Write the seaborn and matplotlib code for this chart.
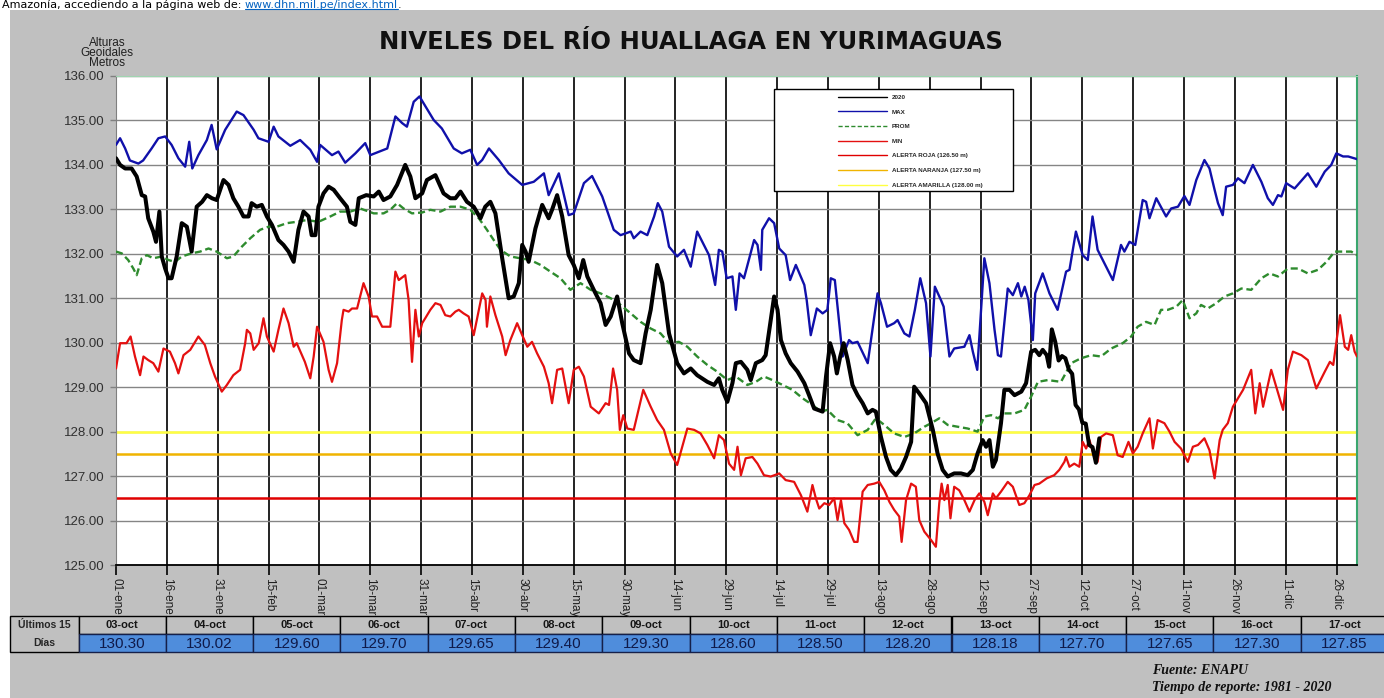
import numpy as np
import pandas as pd
import seaborn as sns
import matplotlib
matplotlib.use('Agg')
import matplotlib.pyplot as plt
from matplotlib.patches import Rectangle

# Ejes: dias desde el 01-ene (2020, bisiesto), ticks cada 15 dias
tick_days = list(range(0, 361, 15))
tick_labels = ['01-ene', '16-ene', '31-ene', '15-feb', '01-mar', '16-mar', '31-mar',
               '15-abr', '30-abr', '15-may', '30-may', '14-jun', '29-jun', '14-jul',
               '29-jul', '13-ago', '28-ago', '12-sep', '27-sep', '12-oct', '27-oct',
               '11-nov', '26-nov', '11-dic', '26-dic']
y_ticks = list(range(125, 137))

# Ultimos 15 dias (tabla inferior), dias 276..290 del año
ultimos_fechas = ['03-oct', '04-oct', '05-oct', '06-oct', '07-oct', '08-oct', '09-oct', '10-oct',
                  '11-oct', '12-oct', '13-oct', '14-oct', '15-oct', '16-oct', '17-oct']
ultimos_dias = list(range(276, 291))
ultimos_valores = [130.30, 130.02, 129.60, 129.70, 129.65, 129.40, 129.30, 128.60,
                   128.50, 128.20, 128.18, 127.70, 127.65, 127.30, 127.85]

# Nivel 2020, hasta el 02-oct; luego la tabla
nivel_2020 = [(0, 134.15), (1.2, 134.0), (2.7, 133.92), (4.6, 133.92), (6.1, 133.74), (7.6, 133.32),
              (8.6, 133.29), (9.5, 132.8), (11, 132.5), (11.8, 132.27), (12.8, 132.95), (13.5, 131.94),
              (14.5, 131.67), (15.5, 131.45), (16.4, 131.45), (17.9, 131.94), (19.4, 132.69),
              (20.9, 132.61), (22.3, 132.05), (23.8, 133.06), (25.4, 133.17), (26.8, 133.32),
              (28.3, 133.25), (29.7, 133.21), (31.7, 133.66), (33.2, 133.55), (34.6, 133.25),
              (36.1, 133.06), (37.6, 132.84), (39.1, 132.84), (40, 133.14), (41.5, 133.06),
              (43, 133.1), (44.5, 132.84), (46, 132.65), (47.9, 132.31), (49.4, 132.2), (50.9, 132.05),
              (52.4, 131.82), (53.8, 132.54), (55.3, 132.95), (56.8, 132.84), (57.7, 132.42),
              (58.8, 132.42), (59.7, 133.06), (61.2, 133.36), (62.7, 133.51), (64.2, 133.44),
              (66.1, 133.25), (68.1, 133.06), (69.1, 132.72), (70.6, 132.65), (71.6, 133.25),
              (73.8, 133.32), (76, 133.29), (77.5, 133.4), (78.9, 133.21), (80.9, 133.29),
              (82.9, 133.55), (85.3, 134.0), (86.8, 133.74), (88.3, 133.25), (90.3, 133.36),
              (91.7, 133.66), (94.2, 133.77), (96.6, 133.36), (98.6, 133.25), (100.1, 133.25),
              (101.6, 133.4), (103.5, 133.17), (105.5, 133.06), (107.5, 132.8), (108.9, 133.06),
              (110.4, 133.17), (111.9, 132.91), (113.9, 131.9), (115.8, 131.0), (117.3, 131.04),
              (118.8, 131.34), (119.8, 132.2), (120.8, 132.05), (121.7, 131.82), (123.7, 132.57),
              (125.7, 133.1), (127.6, 132.8), (128.6, 132.99), (130.1, 133.32), (131.6, 132.84),
              (133.5, 131.97), (135, 131.75), (136.5, 131.45), (137.8, 131.86), (139, 131.49),
              (140.9, 131.19), (142.9, 130.89), (144.4, 130.4), (145.9, 130.59), (147.8, 131.04),
              (149.3, 130.44), (151.3, 129.76), (152.7, 129.61), (154.7, 129.54), (156.2, 130.21),
              (157.7, 130.74), (159.6, 131.75), (161.1, 131.34), (163.1, 130.21), (165.5, 129.54),
              (167.5, 129.31), (169.5, 129.42), (171.4, 129.27), (174.4, 129.12), (176.4, 129.05),
              (177.8, 129.2), (178.8, 128.94), (180.3, 128.67), (181.8, 129.09), (182.8, 129.54),
              (184.3, 129.57), (186.2, 129.39), (187.2, 129.16), (188.7, 129.54), (190.6, 129.61),
              (191.6, 129.72), (193.1, 130.51), (194.1, 131.04), (195.1, 130.74), (196.1, 130.06),
              (197.5, 129.76), (199, 129.54), (201, 129.35), (203, 129.09), (204.4, 128.82),
              (205.9, 128.52), (208.4, 128.45), (209.4, 129.24), (210.6, 129.99), (211.8, 129.69),
              (212.6, 129.31), (213.6, 129.69), (214.6, 129.99), (215.8, 129.61), (217.2, 129.05),
              (218.7, 128.82), (220.2, 128.64), (221.7, 128.41), (223.1, 128.49), (224.1, 128.45),
              (225.6, 127.88), (227.1, 127.43), (228.5, 127.14), (230, 127.02), (231.5, 127.17),
              (233, 127.43), (234.5, 127.77), (235.4, 129.01), (236.9, 128.86), (238.9, 128.64),
              (240.9, 128.04), (242.3, 127.51), (243.8, 127.14), (245.3, 126.99), (247.2, 127.06),
              (249.2, 127.06), (251.2, 127.02), (252.7, 127.14), (254.1, 127.51), (255.6, 127.81),
              (256.6, 127.66), (257.6, 127.81), (258.6, 127.21), (259.5, 127.36), (261, 128.19),
              (262, 128.94), (263.5, 128.94), (265, 128.82), (267, 128.9), (268.4, 129.09),
              (269.9, 129.8), (271.1, 129.84), (272.3, 129.72), (273.3, 129.84), (274.5, 129.72),
              (275.2, 129.46)]

nivel_max = [(0, 134.45), (1.2, 134.6), (2.7, 134.37), (4.1, 134.1), (6.6, 134.03), (8, 134.1),
             (10.5, 134.37), (12.5, 134.6), (14.5, 134.64), (16.4, 134.45), (18.4, 134.15),
             (20.4, 133.96), (21.6, 134.52), (22.5, 133.92), (24.3, 134.22), (26.8, 134.56),
             (28.2, 134.9), (29.7, 134.35), (32.2, 134.79), (35.6, 135.2), (37.6, 135.12),
             (40.6, 134.79), (42, 134.6), (45, 134.52), (46.5, 134.86), (47.9, 134.64), (51.4, 134.43),
             (54.3, 134.56), (57.3, 134.34), (59.3, 134.07), (60.2, 134.45), (63.7, 134.22),
             (65.6, 134.3), (67.6, 134.05), (70.6, 134.26), (73.5, 134.49), (75, 134.22), (80, 134.37),
             (82.4, 135.09), (84.4, 134.94), (85.8, 134.86), (87.8, 135.42), (89.5, 135.54),
             (93.7, 135.01), (96.1, 134.82), (99.6, 134.37), (102, 134.26), (104.5, 134.34),
             (106.5, 134.0), (108, 134.11), (110, 134.37), (112.9, 134.11), (115.8, 133.81),
             (119.8, 133.55), (123.2, 133.62), (126.2, 133.81), (127.6, 133.32), (130.6, 133.81),
             (133.5, 132.87), (135, 132.91), (138, 133.59), (140.4, 133.75), (143.4, 133.29),
             (146.8, 132.54), (148.8, 132.42), (151.8, 132.5), (152.7, 132.35), (154.7, 132.5),
             (156.7, 132.42), (158.7, 132.84), (159.8, 133.14), (161.1, 132.95), (163.1, 132.16),
             (165.5, 131.94), (167.5, 132.09), (169.5, 131.71), (171.4, 132.5), (174.9, 131.97),
             (176.7, 131.3), (177.8, 132.09), (178.8, 132.05), (180.1, 131.45), (181.8, 131.49),
             (182.8, 130.74), (183.9, 131.56), (185.2, 131.45), (188.2, 132.31), (189.2, 132.2),
             (190.2, 131.64), (190.6, 132.54), (192.6, 132.8), (194.1, 132.69), (195.6, 132.12),
             (197.5, 131.97), (198.8, 131.41), (200.5, 131.75), (203, 131.3), (203.7, 130.96),
             (204.9, 130.17), (206.7, 130.77), (208.4, 130.66), (209.8, 130.74), (210.8, 131.45),
             (212, 131.41), (214.3, 129.69), (216.2, 130.06), (217.2, 129.99), (218.7, 130.02),
             (221.7, 129.54), (224.6, 131.11), (225.6, 130.89), (227.4, 130.36), (229.5, 130.44),
             (230.5, 130.51), (232.5, 130.21), (234, 130.14), (235.6, 130.74), (237.2, 131.45),
             (238.9, 130.89), (240.2, 129.69), (241.5, 131.26), (243.3, 130.96), (244.1, 130.81),
             (245.8, 129.69), (247.2, 129.87), (250.2, 129.91), (251.7, 130.17), (252.7, 129.8),
             (254, 129.39), (256.1, 131.9), (257.6, 131.34), (259.1, 130.29), (260.1, 129.72),
             (261, 129.69), (263, 131.22), (264.5, 131.07), (266, 131.34), (267, 131.04),
             (268, 131.26), (269.1, 130.96), (270.4, 130.06), (271.1, 131.11), (273.3, 131.56),
             (275.3, 131.11), (277.7, 130.74), (280.2, 131.6), (281.2, 131.64), (283.1, 132.5),
             (285.1, 131.97), (286.6, 131.86), (288, 132.84), (289.5, 132.09), (294, 131.41),
             (296.4, 132.2), (297.4, 132.05), (298.9, 132.27), (300.6, 132.2), (302.8, 133.21),
             (303.8, 133.17), (304.8, 132.8), (306.8, 133.25), (309.7, 132.84), (311.2, 133.02),
             (313.2, 133.06), (315.1, 133.3), (316.6, 133.1), (318.6, 133.66), (321, 134.11),
             (322.5, 133.92), (324, 133.44), (325, 133.14), (326.4, 132.87), (327.4, 133.51),
             (329.4, 133.55), (330.9, 133.7), (332.8, 133.59), (335.3, 134.0), (337.8, 133.62),
             (339.7, 133.25), (341.2, 133.1), (342.7, 133.32), (343.7, 133.29), (345.1, 133.59),
             (347.6, 133.47), (351.5, 133.81), (354, 133.51), (356.5, 133.85), (358.4, 134.0),
             (359.9, 134.26), (361.9, 134.19), (363.4, 134.19), (366, 134.13)]

nivel_prom = [(0, 132.05), (1.7, 132.01), (3.6, 131.86), (5.1, 131.67), (6.1, 131.52), (7.6, 131.9),
              (9.1, 131.97), (11, 131.9), (13.5, 131.94), (15.5, 131.86), (17.4, 131.82),
              (19.4, 131.94), (22.3, 132.01), (24.8, 132.05), (27.3, 132.12), (29.7, 132.05),
              (32.7, 131.9), (34.6, 131.94), (37.1, 132.16), (39.6, 132.35), (42.5, 132.54),
              (45, 132.61), (47.4, 132.61), (50.4, 132.69), (53.3, 132.72), (56.3, 132.76),
              (59.7, 132.72), (63.2, 132.84), (66.1, 132.95), (69.1, 132.95), (72, 133.02),
              (76, 132.91), (78.9, 132.91), (80.9, 132.99), (82.9, 133.14), (84.8, 133.02),
              (87.3, 132.91), (90.3, 132.93), (92.7, 132.99), (95.7, 132.95), (98.6, 133.06),
              (101.6, 133.06), (104.5, 132.99), (107, 132.8), (109.4, 132.54), (111.4, 132.31),
              (113.4, 132.09), (116.3, 131.94), (119.3, 131.9), (122.2, 131.86), (125.2, 131.75),
              (128.1, 131.6), (131.1, 131.45), (134, 131.19), (137, 131.34), (140, 131.19),
              (142.9, 131.11), (145.9, 131.0), (148.8, 130.85), (151.8, 130.66), (154.7, 130.47),
              (157.7, 130.32), (160.6, 130.21), (163.1, 129.99), (166, 130.02), (168.5, 129.91),
              (171.4, 129.69), (174.4, 129.5), (177.3, 129.35), (180.3, 129.16), (182.8, 129.24),
              (186.2, 129.05), (188.7, 129.12), (191.1, 129.24), (193.6, 129.16), (196.6, 129.05),
              (199.5, 128.94), (202.5, 128.75), (205.4, 128.6), (207.9, 128.45), (209.8, 128.49),
              (212.8, 128.26), (215.7, 128.19), (218.7, 127.92), (221.7, 128.04), (224.1, 128.3),
              (226.6, 128.15), (229.5, 127.96), (232.5, 127.88), (235.4, 127.96), (238.4, 128.11),
              (240.4, 128.19), (242.8, 128.3), (245.3, 128.15), (248.2, 128.11), (251.2, 128.07),
              (254.1, 128.0), (256.1, 128.34), (258.1, 128.37), (260.1, 128.3), (262, 128.41),
              (265, 128.41), (267.9, 128.49), (269.9, 128.79), (271.9, 129.12), (274.8, 129.16),
              (278.7, 129.12), (281.7, 129.54), (284.6, 129.65), (287.6, 129.72), (290.5, 129.69),
              (293.5, 129.87), (296.9, 129.99), (299.4, 130.14), (301.3, 130.36), (303.8, 130.47),
              (306.3, 130.4), (308.2, 130.74), (310.2, 130.74), (312.7, 130.81), (314.6, 130.96),
              (316.6, 130.55), (318.6, 130.66), (320, 130.85), (322, 130.77), (324.5, 130.89),
              (326.9, 131.04), (329.4, 131.11), (331.9, 131.22), (334.8, 131.19), (337.8, 131.45),
              (340.2, 131.56), (342.7, 131.49), (345.6, 131.67), (348.6, 131.67), (351.5, 131.56),
              (354.5, 131.64), (357, 131.82), (359.4, 132.05), (361.9, 132.05), (364.3, 132.05),
              (366, 131.97)]

nivel_min = [(0, 129.42), (1.2, 129.99), (3.1, 129.99), (4.3, 130.14), (5.6, 129.69), (7.1, 129.27),
             (8.1, 129.69), (9.5, 129.61), (11, 129.54), (12.5, 129.35), (14, 129.87), (15.9, 129.8),
             (17.4, 129.54), (18.4, 129.31), (19.9, 129.72), (21.9, 129.84), (24.3, 130.14),
             (26.2, 129.95), (27.8, 129.54), (29.2, 129.24), (31.2, 128.9), (32.7, 129.05),
             (34.6, 129.27), (36.6, 129.39), (38.1, 129.99), (38.6, 130.29), (39.6, 130.21),
             (40.6, 129.84), (42.1, 129.99), (43.5, 130.55), (44.5, 130.14), (46.5, 129.8),
             (47.9, 130.29), (49.4, 130.77), (50.9, 130.44), (52.4, 129.91), (53.3, 129.99),
             (55.7, 129.57), (57.3, 129.2), (58.3, 129.69), (59.3, 130.36), (61.2, 130.02),
             (62.7, 129.39), (63.7, 129.12), (65.2, 129.54), (66.6, 130.51), (67.1, 130.74),
             (68.6, 130.7), (69.6, 130.77), (71.1, 130.77), (73, 131.34), (74.5, 131.04),
             (75.5, 130.59), (77, 130.59), (78.5, 130.36), (80.9, 130.36), (82.4, 131.6),
             (83.4, 131.41), (85.3, 131.52), (86.3, 130.96), (87.3, 129.57), (88.3, 130.74),
             (89.3, 130.14), (90.3, 130.44), (91.2, 130.55), (92.7, 130.74), (94.2, 130.89),
             (95.7, 130.85), (97.1, 130.62), (98.6, 130.59), (100.1, 130.7), (101.1, 130.74),
             (102.5, 130.66), (104, 130.59), (105.5, 130.17), (108, 131.11), (109, 130.96),
             (109.4, 130.36), (110.4, 131.04), (111.9, 130.62), (113.9, 130.14), (114.9, 129.72),
             (116.3, 130.06), (118.3, 130.44), (119.8, 130.17), (121.3, 129.91), (122.7, 130.02),
             (124.2, 129.76), (126.2, 129.46), (127.6, 129.09), (128.6, 128.64), (130.1, 129.39),
             (131.6, 129.42), (133.5, 128.64), (135, 129.39), (136.5, 129.46), (138, 129.24),
             (140, 128.56), (142.4, 128.41), (144.4, 128.64), (145.4, 128.6), (146.6, 129.42),
             (147.8, 128.94), (148.6, 128.04), (149.6, 128.37), (150.8, 128.07), (152.7, 128.04),
             (155.5, 128.94), (157.7, 128.56), (159.6, 128.26), (161.6, 128.04), (163.6, 127.51),
             (165.5, 127.25), (167, 127.66), (168.5, 128.07), (170.5, 128.04), (172.4, 127.96),
             (174.4, 127.7), (176.4, 127.4), (177.8, 127.92), (179.3, 127.81), (180.8, 127.28),
             (182.3, 127.14), (183.3, 127.66), (184.3, 127.02), (185.7, 127.4), (187.7, 127.43),
             (189.2, 127.28), (191.1, 127.02), (193.1, 126.99), (195.6, 127.06), (197.5, 126.91),
             (200, 126.87), (202, 126.57), (203.9, 126.2), (205.4, 126.8), (206.4, 126.5),
             (207.4, 126.27), (208.9, 126.39), (210.3, 126.35), (211.8, 126.5), (212.8, 126.01),
             (213.8, 126.46), (214.8, 125.94), (216.2, 125.79), (217.7, 125.52), (218.7, 125.52),
             (220.2, 126.65), (221.7, 126.8), (223.6, 126.83), (225.1, 126.87), (226.6, 126.68),
             (228.1, 126.42), (229.5, 126.24), (231, 126.09), (231.7, 125.52), (233, 126.46),
             (234.5, 126.83), (235.9, 126.76), (236.9, 126.01), (238.4, 125.75), (240.4, 125.56),
             (241.8, 125.41), (242.8, 126.39), (243.5, 126.83), (244.3, 126.46), (245.3, 126.8),
             (246.1, 126.05), (247.2, 126.76), (248.7, 126.68), (250.2, 126.46), (251.7, 126.2),
             (253.2, 126.46), (254.6, 126.61), (256.1, 126.42), (257.1, 126.12), (258.6, 126.61),
             (259.5, 126.5), (261, 126.65), (263, 126.87), (264.5, 126.76), (266.4, 126.35),
             (267.9, 126.39), (269.4, 126.57), (270.9, 126.8), (272.3, 126.83), (274.5, 126.95),
             (276.7, 127.02), (278.2, 127.14), (279.7, 127.32), (280.2, 127.43), (281.2, 127.21),
             (282.6, 127.28), (284.1, 127.21), (285.1, 127.77), (286.1, 127.62), (287.1, 127.81),
             (288.5, 127.43), (289.5, 127.32), (290.5, 127.88), (292, 127.96), (294, 127.92),
             (295.4, 127.47), (296.9, 127.43), (298.6, 127.77), (299.9, 127.51), (301.3, 127.66),
             (302.8, 127.96), (304.8, 128.3), (305.8, 127.62), (307.2, 128.26), (309.2, 128.19),
             (310.7, 128.0), (312.2, 127.77), (314.1, 127.62), (316.1, 127.32), (317.6, 127.66),
             (319.1, 127.7), (321, 127.85), (322.5, 127.58), (324, 126.95), (325.5, 127.81),
             (326.4, 128.04), (327.9, 128.19), (329.4, 128.56), (330.9, 128.75), (332.4, 128.94),
             (334.8, 129.39), (336, 128.41), (337.3, 129.09), (338.3, 128.56), (340.7, 129.39),
             (344.2, 128.49), (345.6, 129.39), (347.1, 129.8), (349.6, 129.72), (351.5, 129.61),
             (354, 128.97), (356.5, 129.35), (358, 129.57), (359, 129.5), (360, 130.06),
             (361, 130.62), (362.4, 129.91), (363.4, 129.84), (364.3, 130.17), (365.3, 129.8),
             (366, 129.69)]

# niveles de referencia (lineas horizontales)
ref_niveles = [126.50, 127.50, 128.00]
ref_labels = ['ALERTA ROJA (126.50 m)', 'ALERTA NARANJA (127.50 m)', 'ALERTA AMARILLA (128.00 m)']
ref_colors = ['#e00000', '#f0b400', '#ffff40']


def to_df(pairs):
    return pd.DataFrame(pairs, columns=['dia', 'nivel'])


df_2020 = pd.concat([to_df(nivel_2020),
                     pd.DataFrame({'dia': ultimos_dias, 'nivel': ultimos_valores})], ignore_index=True)

sns.set_style('white')
plt.rcParams['font.family'] = ['Liberation Sans', 'DejaVu Sans']

W, H = 1384, 698
fig = plt.figure(figsize=(W / 100, H / 100), dpi=100)

# fondo gris y tabla en coordenadas de pixel
bg = fig.add_axes([0, 0, 1, 1], zorder=0)
bg.set_xlim(0, W)
bg.set_ylim(H, 0)
bg.axis('off')
bg.add_patch(Rectangle((10, 10), W - 10, H - 10, facecolor='#c0c0c0', edgecolor='none'))

# grafico principal
ax = fig.add_axes([116 / W, 1 - 565 / H, (1357 - 116) / W, (565 - 76) / H], zorder=2)
ax.set_facecolor('white')

for nivel, lab, col in zip(ref_niveles, ref_labels, ref_colors):
    ax.axhline(nivel, color=col, lw=1.8, label=lab, zorder=2)

sns.lineplot(data=to_df(nivel_max), x='dia', y='nivel', ax=ax, color='#1010aa', lw=1.7,
             estimator=None, label='MAX', zorder=3)
sns.lineplot(data=to_df(nivel_prom), x='dia', y='nivel', ax=ax, color='#2e8b2e', lw=1.7,
             estimator=None, label='PROM', zorder=3)
ax.lines[-1].set_dashes([3, 1.6])
sns.lineplot(data=to_df(nivel_min), x='dia', y='nivel', ax=ax, color='#e41010', lw=1.6,
             estimator=None, label='MIN', zorder=3)
sns.lineplot(data=df_2020, x='dia', y='nivel', ax=ax, color='black', lw=2.9,
             estimator=None, label='2020', zorder=4)

ax.set_xlim(0, 366)
ax.set_ylim(125, 136)
ax.set_xticks(tick_days)
ax.set_xticklabels(tick_labels)
ax.set_yticks(y_ticks)
ax.set_yticklabels([f'{v:.2f}' for v in y_ticks])
ax.set_xlabel('')
ax.set_ylabel('')
ax.set_axisbelow(True)
ax.yaxis.grid(True, color='#858585', lw=1.0)
ax.xaxis.grid(True, color='#111111', lw=1.3)
ax.tick_params(axis='x', direction='out', length=7, width=1.2, color='black',
               labelrotation=-90, labelsize=8.5, labelcolor='#202020', pad=2.5, bottom=True)
ax.tick_params(axis='y', direction='out', length=4, width=1, color='#808080',
               labelsize=9.5, labelcolor='#303030', pad=4, left=True)
ax.spines['left'].set_color('#808080')
ax.spines['bottom'].set_color('black')
ax.spines['bottom'].set_linewidth(1.3)
ax.spines['top'].set_color('#9fd4b0')
ax.spines['right'].set_color('#3aa66e')
ax.spines['right'].set_linewidth(1.5)

# leyenda con marco propio
ax.add_patch(Rectangle((0.530, 0.765), 0.193, 0.208, transform=ax.transAxes,
                       facecolor='white', edgecolor='black', lw=1, zorder=5))
handles, labels = ax.get_legend_handles_labels()
order = ['2020', 'MAX', 'PROM', 'MIN'] + ref_labels
hmap = dict(zip(labels, handles))
leg = ax.legend([hmap[k] for k in order], order, loc='upper left',
                bbox_to_anchor=(0.582, 0.962), frameon=False, borderpad=0, borderaxespad=0,
                handlelength=7.8, handletextpad=0.8, labelspacing=1.48,
                prop={'size': 4.5, 'weight': 'bold'})
leg.set_zorder(6)
for line in leg.get_lines():
    line.set_linewidth(1.0)

# textos
fig.text(691 / W, 1 - 42 / H, 'NIVELES DEL RÍO HUALLAGA EN YURIMAGUAS', ha='center', va='center',
         fontsize=17.5, fontweight='bold', family='DejaVu Sans', color='#101010')
fig.text(107 / W, 1 - 53 / H, 'Alturas\nGeoidales\nMetros', ha='center', va='center',
         fontsize=8.5, linespacing=0.76, color='#202020')

t1 = fig.text(2 / W, 1 - 8 / H, 'Amazonía, accediendo a la página web de: ', fontsize=8,
              va='baseline', family='DejaVu Sans', color='black')
fig.canvas.draw()
bb1 = t1.get_window_extent()
t2 = fig.text(bb1.x1 / W, 1 - 8 / H, 'www.dhn.mil.pe/index.html', fontsize=8,
              va='baseline', family='DejaVu Sans', color='#0563c1')
fig.canvas.draw()
bb2 = t2.get_window_extent()
fig.text(bb2.x1 / W, 1 - 8 / H, '.', fontsize=8, va='baseline', family='DejaVu Sans')
bg.plot([bb2.x0, bb2.x1], [9.2, 9.2], color='#0563c1', lw=0.8)

# tabla de los ultimos 15 dias
y_top, row_h = 616, 18
col_x0, col_w = 78.5, 87.3
bg.add_patch(Rectangle((10, y_top), col_x0 - 10, 2 * row_h, facecolor='#c0c0c0',
                       edgecolor='black', lw=1))
bg.text((10 + col_x0) / 2, y_top + row_h / 2, 'Últimos 15', ha='center', va='center',
        fontsize=7.5, fontweight='bold')
bg.text((10 + col_x0) / 2, y_top + 1.5 * row_h, 'Días', ha='center', va='center',
        fontsize=7.5, fontweight='bold')
for i, (fecha, valor) in enumerate(zip(ultimos_fechas, ultimos_valores)):
    x0 = col_x0 + i * col_w
    bg.add_patch(Rectangle((x0, y_top), col_w, row_h, facecolor='#c0c0c0',
                           edgecolor='black', lw=1))
    bg.add_patch(Rectangle((x0, y_top + row_h), col_w, row_h, facecolor='#4f8ddc',
                           edgecolor='#15204a', lw=1))
    bg.text(x0 + col_w / 2, y_top + row_h / 2, fecha, ha='center', va='center',
            fontsize=8, fontweight='bold', color='#151515')
    bg.text(x0 + col_w / 2, y_top + 1.5 * row_h + 1, f'{valor:.2f}', ha='center', va='center',
            fontsize=11, color='#0f1a4a')

serif = ['Liberation Serif', 'DejaVu Serif']
bg.text(1152, 670, 'Fuente: ENAPU', fontsize=10, fontweight='bold', fontstyle='italic',
        family=serif, va='center', color='#101010')
bg.text(1152, 687, 'Tiempo de reporte: 1981 - 2020', fontsize=10, fontweight='bold',
        fontstyle='italic', family=serif, va='center', color='#101010')

fig.savefig('out.png', dpi=100)
